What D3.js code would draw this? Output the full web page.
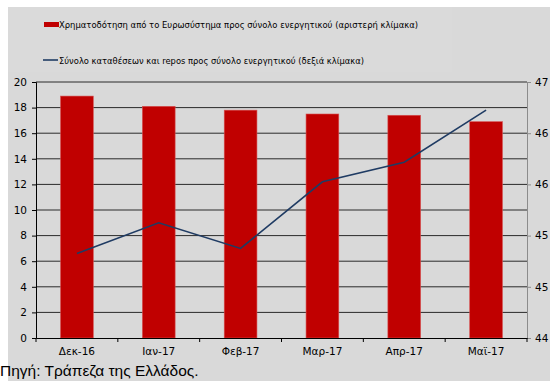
<!DOCTYPE html>
<html>
<head>
<meta charset="utf-8">
<script src="https://cdn.jsdelivr.net/npm/d3@7"></script>
<style>
  html, body { margin: 0; padding: 0; background: #ffffff; }
  svg { display: block; }
  text { font-family: "DejaVu Sans", Verdana, sans-serif; fill: #000; }
</style>
</head>
<body>
<svg id="chart" width="550" height="381"></svg>
<script>
// Monthly categories
const months = ["Δεκ-16", "Ιαν-17", "Φεβ-17", "Μαρ-17", "Απρ-17", "Μαϊ-17"];
// Eurosystem funding as % of total assets (left scale)
const funding = [18.9, 18.1, 17.8, 17.5, 17.4, 16.9];
// Deposits and repos as % of total assets (right scale)
const deposits = [44.99, 45.35, 45.05, 45.83, 46.06, 46.67];
// Axis ticks
const leftTicks = [0, 2, 4, 6, 8, 10, 12, 14, 16, 18, 20];
const rightTicks = [44, 44.6, 45.2, 45.8, 46.4, 47];
// Legend and source texts
const seriesNames = [
  "Χρηματοδότηση από το Ευρωσύστημα προς σύνολο ενεργητικού (αριστερή κλίμακα)",
  "Σύνολο καταθέσεων και repos προς σύνολο ενεργητικού (δεξιά κλίμακα)"
];
const sourceNote = "Πηγή: Τράπεζα της Ελλάδος.";

const svg = d3.select("#chart");

// Chart background
svg.append("rect").attr("x", 8).attr("y", 7).attr("width", 542).attr("height", 374)
  .attr("fill", "#d9d9d9");
// Legend panel
svg.append("rect").attr("x", 8).attr("y", 7).attr("width", 444).attr("height", 65)
  .attr("fill", "#dadada");

const plot = { left: 36, right: 527, top: 82, bottom: 338 };

const x = d3.scaleBand().domain(months).range([plot.left, plot.right])
  .paddingInner(0.6).paddingOuter(0.3);
const xOuter = d3.scaleBand().domain(months).range([plot.left, plot.right]);
const yL = d3.scaleLinear().domain([0, 20]).range([plot.bottom, plot.top]);
const yR = d3.scaleLinear().domain([44, 47]).range([plot.bottom, plot.top]);

// Horizontal gridlines
svg.append("g").selectAll("line").data(leftTicks.filter(d => d > 0)).join("line")
  .attr("x1", plot.left).attr("x2", plot.right)
  .attr("y1", d => yL(d)).attr("y2", d => yL(d))
  .attr("stroke", "#2a2a2a").attr("stroke-width", 1);

// Bars
svg.append("g").selectAll("rect").data(funding).join("rect")
  .attr("x", (d, i) => x(months[i]))
  .attr("width", x.bandwidth())
  .attr("y", d => yL(d))
  .attr("height", d => yL(0) - yL(d))
  .attr("fill", "#c00000")
  .attr("stroke", "#d65050").attr("stroke-width", 0.6);

// Line series
const line = d3.line()
  .x((d, i) => xOuter(months[i]) + xOuter.bandwidth() / 2)
  .y(d => yR(d));
svg.append("path").datum(deposits)
  .attr("d", line)
  .attr("fill", "none")
  .attr("stroke", "#1f3b63")
  .attr("stroke-width", 1.6);

// Left axis
const gL = svg.append("g").attr("transform", `translate(${plot.left},0)`)
  .call(d3.axisLeft(yL).tickValues(leftTicks).tickSize(4).tickPadding(5).tickFormat(d3.format("d")));
gL.select(".domain").attr("stroke", "#000");
gL.selectAll(".tick line").attr("stroke", "#000");
gL.selectAll("text").style("font-size", "10.5px").attr("fill", "#000");

// Right axis
const gR = svg.append("g").attr("transform", `translate(${plot.right},0)`)
  .call(d3.axisRight(yR).tickValues(rightTicks).tickSize(4).tickPadding(4).tickFormat(d3.format(".0f")));
gR.select(".domain").attr("stroke", "#8c8c8c");
gR.selectAll(".tick line").attr("stroke", "#8c8c8c");
gR.selectAll("text").style("font-size", "10.5px").attr("fill", "#000");

// Bottom axis
const gB = svg.append("g").attr("transform", `translate(0,${plot.bottom})`)
  .call(d3.axisBottom(xOuter).tickSize(0).tickPadding(10));
gB.select(".domain").attr("stroke", "#000");
gB.selectAll("text").style("font-size", "10.5px").attr("fill", "#000");
// Category separators
gB.append("g").selectAll("line")
  .data(months.map(m => xOuter(m)).concat([plot.right])).join("line")
  .attr("x1", d => d).attr("x2", d => d).attr("y1", 0).attr("y2", 4)
  .attr("stroke", "#000");

// Legend
const legend = svg.append("g");
legend.append("rect").attr("x", 44).attr("y", 22).attr("width", 15).attr("height", 5)
  .attr("fill", "#c00000");
legend.append("text").attr("x", 59).attr("y", 28)
  .attr("textLength", 359).attr("lengthAdjust", "spacingAndGlyphs")
  .style("font-size", "9.5px").text(seriesNames[0]);
legend.append("line").attr("x1", 43).attr("x2", 58).attr("y1", 60).attr("y2", 60)
  .attr("stroke", "#1f3b63").attr("stroke-width", 1.6);
legend.append("text").attr("x", 59).attr("y", 64)
  .attr("textLength", 305).attr("lengthAdjust", "spacingAndGlyphs")
  .style("font-size", "9.5px").text(seriesNames[1]);

// Source note
svg.append("rect").attr("x", 0).attr("y", 362).attr("width", 8).attr("height", 19)
  .attr("fill", "#ffffff");
svg.append("text").attr("x", 0).attr("y", 376)
  .style("font-family", "'Liberation Sans', Arial, sans-serif")
  .style("font-size", "15.5px").text(sourceNote);
</script>
</body>
</html>
